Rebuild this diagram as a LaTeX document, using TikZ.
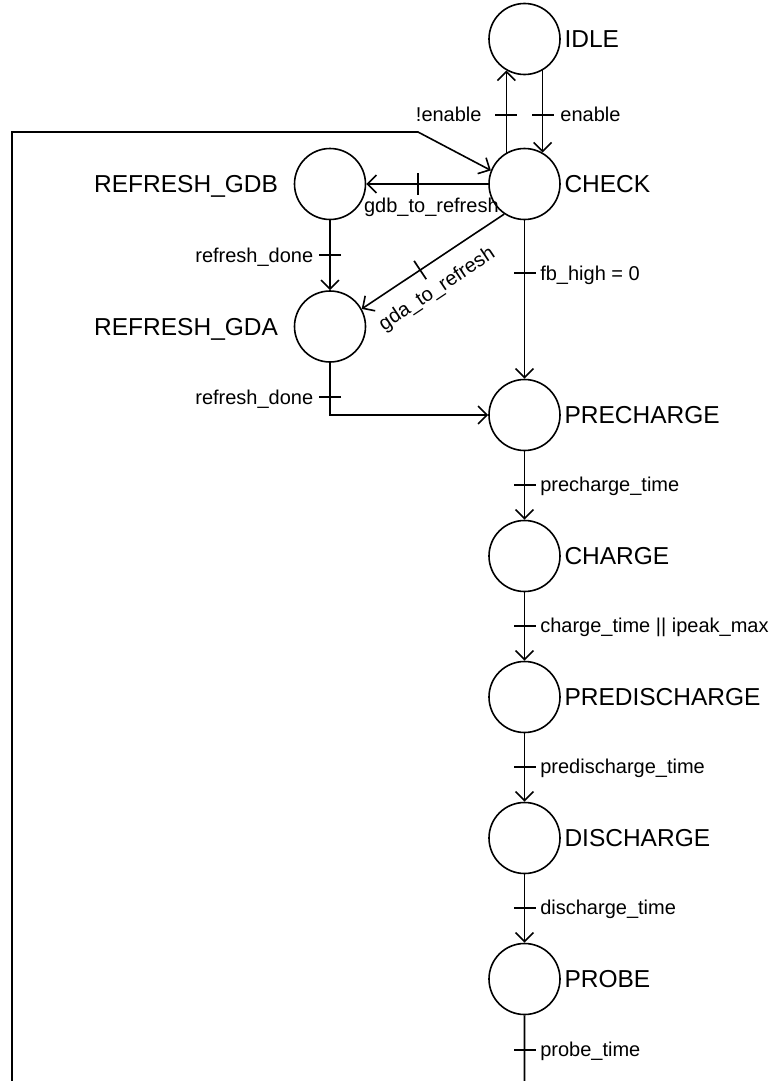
\documentclass[tikz,border=0pt]{standalone}
\usepackage{fontspec}
\setmainfont{Liberation Sans}
\usetikzlibrary{positioning,arrows.meta}
\tikzset{
    state/.style={circle, draw, line width=1.6pt, minimum size=71pt, inner sep=0pt},
    stlabel/.style={font=\fontsize{24.5}{29}\selectfont, inner sep=0pt, text height=17.5pt, text depth=0pt},
    cond/.style={font=\fontsize{20}{24}\selectfont, inner sep=0pt, text height=14.3pt, text depth=0pt},
    trans/.style={draw, line width=1.6pt, -{Straight Barb[length=9pt,width=18pt]}},
    bar/.pic={\draw[-, line width=1.7pt] (0,-11) -- (0,11);}
}

\begin{document}
\begin{tikzpicture}[x=1pt,y=-1pt]
\clip (0,0) rectangle (770,1081);
\fill[white] (0,0) rectangle (770,1081);
\node[state] (idle) at (524.5,39) {};
\node[state] (check) at (524.5,184) {};
\node[state] (gdb) at (330,184) {};
\node[state] (gda) at (330,326.5) {};
\node[state] (precharge) at (524.5,415) {};
\node[state] (charge) at (524.5,556) {};
\node[state] (predischarge) at (524.5,697) {};
\node[state] (discharge) at (524.5,838) {};
\node[state] (probe) at (524.5,979) {};
\node[stlabel, right=3.5pt of idle] (idle-txt) {IDLE};
\node[stlabel, right=3.5pt of check] (check-txt) {CHECK};
\node[stlabel, left=15.5pt of gdb] (gdb-txt) {REFRESH\_GDB};
\node[stlabel, left=15.5pt of gda] (gda-txt) {REFRESH\_GDA};
\node[stlabel, right=3.5pt of precharge] (precharge-txt) {PRECHARGE};
\node[stlabel, right=3.5pt of charge] (charge-txt) {CHARGE};
\node[stlabel, right=3.5pt of predischarge] (predischarge-txt) {PREDISCHARGE};
\node[stlabel, right=3.5pt of discharge] (discharge-txt) {DISCHARGE};
\node[stlabel, right=3.5pt of probe] (probe-txt) {PROBE};
\draw[trans] (check.120) -- pic[pos=0.46, sloped]{bar} node[cond, pos=0.46, left=24pt]{!enable} (idle.240);
\draw[trans] (idle.300) -- pic[pos=0.54, sloped]{bar} node[cond, pos=0.54, right=17pt]{enable} (check.60);
\draw[trans] (check) -- pic[pos=0.575, sloped]{bar} node[cond, pos=0.466, below=13pt]{gdb\_to\_refresh} (gdb);
\draw[trans] (gdb) -- pic[pos=0.5, sloped]{bar} node[cond, left=16pt]{refresh\_done} (gda);
\draw[trans] (check.236) -- pic[pos=0.59, sloped]{bar} node[cond, sloped, pos=0.57, below=15.7pt]{gda\_to\_refresh} (gda.29);
\draw[trans] (check) -- pic[pos=0.334, sloped]{bar} node[cond, pos=0.334, right=15pt]{fb\_high = 0} (precharge);
\draw[trans] (gda) |- pic[pos=0.33, sloped]{bar} node[cond, pos=0.33, left=16pt]{refresh\_done} (precharge);
\draw[trans] (precharge) -- pic[pos=0.49, sloped]{bar} node[cond, pos=0.49, right=15pt]{precharge\_time} (charge);
\draw[trans] (charge) -- pic[pos=0.49, sloped]{bar} node[cond, pos=0.49, right=15pt]{charge\_time || ipeak\_max} (predischarge);
\draw[trans] (predischarge) -- pic[pos=0.49, sloped]{bar} node[cond, pos=0.49, right=15pt]{predischarge\_time} (discharge);
\draw[trans] (discharge) -- pic[pos=0.49, sloped]{bar} node[cond, pos=0.49, right=15pt]{discharge\_time} (probe);
\coordinate (loopbr) at (524.5,1084);
\coordinate (loopbl) at (12,1084);
\coordinate (looptl) at (12,132);
\coordinate (loopknee) at (418,132);
\draw[trans] (probe) -- pic[pos=0.5, sloped]{bar} node[cond, right=15pt]{probe\_time} (loopbr) -- (loopbl) -- (looptl) -- (loopknee) -- (check.158);
\end{tikzpicture}
\end{document}
